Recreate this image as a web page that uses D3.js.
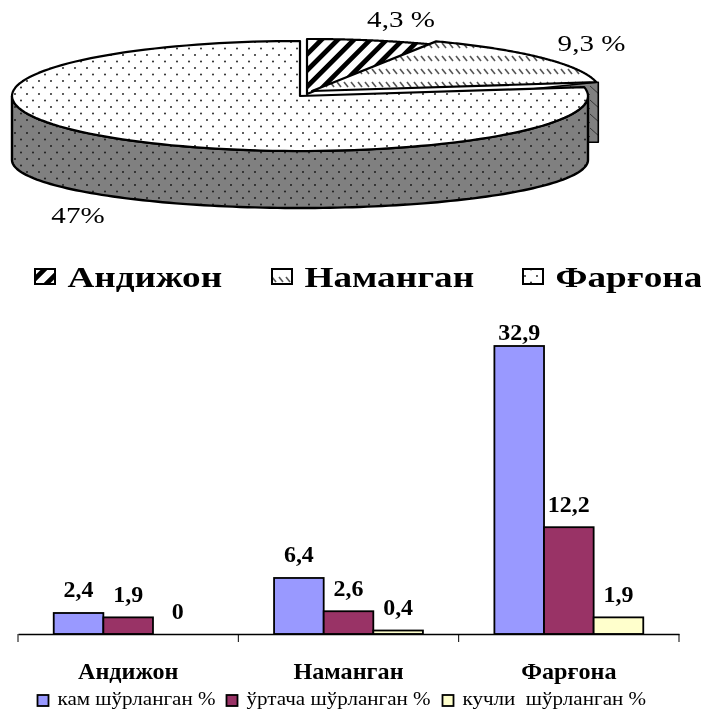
<!DOCTYPE html>
<html><head><meta charset="utf-8">
<script src="https://cdn.jsdelivr.net/npm/d3@7"></script>
<style>html,body{margin:0;padding:0;background:#fff}svg{display:block;filter:blur(0.35px)}text{font-family:"Liberation Serif",serif;fill:#000}</style>
</head><body><svg id="c" width="701" height="710"></svg>
<script>
const regions = ["Андижон", "Наманган", "Фарғона"];
const pieValues = [4.3, 9.3, 47];
const pieLabels = ["4,3 %", "9,3 %", "47%"];
const seriesNames = ["кам шўрланган %", "ўртача шўрланган %", "кучли  шўрланган %"];
const seriesColors = ["#9999FF", "#993366", "#FFFFCC"];
const lowValues = [2.4, 6.4, 32.9];
const midValues = [1.9, 2.6, 12.2];
const highValues = [0, 0.4, 1.9];
const barLabels = [["2,4","6,4","32,9"],["1,9","2,6","12,2"],["0","0,4","1,9"]];

const svg = d3.select("#c");
const defs = svg.append("defs");
function stretch(sel,k){
  sel.each(function(){
    this.style.whiteSpace="pre";
    const w=this.getComputedTextLength();
    d3.select(this).attr("textLength",w*k).attr("lengthAdjust","spacingAndGlyphs");
  });
}
function dots(id, bg, col, r){
  const p = defs.append("pattern").attr("id",id).attr("width",12).attr("height",13).attr("patternUnits","userSpaceOnUse");
  p.append("rect").attr("width",12).attr("height",13).attr("fill",bg);
  [[3,3],[9,9.5]].forEach(d=>p.append("circle").attr("cx",d[0]).attr("cy",d[1]).attr("r",r).attr("fill",col));
}
dots("fer","#fff","#333",1.05);
dots("ferSide","#808080","#222",1.05);
const st = defs.append("pattern").attr("id","and").attr("width",11.5).attr("height",11.5).attr("patternUnits","userSpaceOnUse").attr("patternTransform","rotate(45)");
st.append("rect").attr("width",11.5).attr("height",11.5).attr("fill","#fff");
st.append("rect").attr("width",4.8).attr("height",11.5).attr("fill","#000");
const nh = defs.append("pattern").attr("id","nam").attr("width",7).attr("height",13).attr("patternUnits","userSpaceOnUse");
nh.append("rect").attr("width",7).attr("height",13).attr("fill","#fff");
nh.append("path").attr("d","M1 4L5 9").attr("stroke","#555").attr("stroke-width",1.6);
const ns = defs.append("pattern").attr("id","namSide").attr("width",10).attr("height",14).attr("patternUnits","userSpaceOnUse");
ns.append("rect").attr("width",10).attr("height",14).attr("fill","#808080");
ns.append("path").attr("d","M0 2L10 11").attr("stroke","#333").attr("stroke-width",1);

// ---------- 3D pie
const rx = 288, ry = 55, depth = 64, ryBottom = 48;
const centres = [[307,94],[312,91],[300,96]];
const fills = ["url(#and)","url(#nam)","url(#fer)"];
const arcs = d3.pie().sort(null).startAngle(0).endAngle(2*Math.PI)(pieValues);
const ang = d3.scaleLinear().domain([0,1]);
const rim = (c,a)=>[c[0]+rx*Math.sin(a), c[1]-ry*Math.cos(a)];
const rimLow = (c,a)=>[c[0]+rx*Math.sin(a), c[1]+depth-ryBottom*Math.cos(a)];
const sample = (a0,a1)=>d3.range(0,1.0001,1/120).map(t=>ang.range([a0,a1])(t));
const line = d3.line();
const pieG = svg.append("g").attr("stroke","#000").attr("stroke-linejoin","round");

// Наманган cut face and outer wall
{
  const a = arcs[1], c = centres[1];
  const e = rim(c,a.endAngle);
  const wall = 60;
  pieG.append("path").attr("d",line([e,[e[0]+2,e[1]],[e[0]+2,e[1]+wall],[c[0]+200,e[1]+wall],[c[0]+200,c[1]]])+"Z")
    .attr("fill","url(#namSide)").attr("stroke-width",1.6);
}
// Фарғона outer wall
{
  const c = centres[2];
  const a0 = Math.PI/2, a1 = 1.5*Math.PI;
  const top = sample(a0,a1).map(t=>rim(c,t));
  const bot = sample(a1,a0).map(t=>rimLow(c,t));
  pieG.append("path").attr("d",line(top.concat(bot))+"Z").attr("fill","url(#ferSide)").attr("stroke-width",2.4);
}
// top faces
arcs.forEach((a,i)=>{
  const c = centres[i];
  const pts = [c].concat(sample(a.startAngle,a.endAngle).map(t=>rim(c,t)));
  pieG.append("path").attr("d",line(pts)+"Z").attr("fill",fills[i]).attr("stroke-width",2.2);
});
const pieLabelPos = [[401,27],[591.5,51],[78,223]];
svg.append("g").selectAll("text").data(pieLabels).join("text")
  .attr("x",(d,i)=>pieLabelPos[i][0]).attr("y",(d,i)=>pieLabelPos[i][1])
  .attr("text-anchor","middle").attr("font-size",24).text(d=>d).call(stretch,1.21);

// pie legend
const pieLegendX = [34,271,522];
const pl = svg.append("g").selectAll("g").data(regions).join("g").attr("transform",(d,i)=>`translate(${pieLegendX[i]},0)`);
pl.append("rect").attr("x",1).attr("y",269).attr("width",20).attr("height",15).attr("fill",(d,i)=>fills[i]).attr("stroke","#000").attr("stroke-width",2);
pl.append("text").attr("x",33.5).attr("y",287).attr("font-size",30).attr("font-weight","bold").text(d=>d).call(stretch,1.24);

// ---------- bars
const x0 = d3.scaleBand().domain(regions).range([18,679]);
const x1 = d3.scaleBand().domain(seriesNames).range([0,x0.bandwidth()]).paddingInner(0).paddingOuter(0.72);
const y = d3.scaleLinear().domain([0,32.9]).range([634,346]);
const seriesData = [lowValues,midValues,highValues];
seriesNames.forEach((s,si)=>{
  svg.append("g").selectAll("rect").data(seriesData[si]).join("rect")
    .attr("x",(d,i)=>x0(regions[i])+x1(s)).attr("width",x1.bandwidth())
    .attr("y",d=>y(d)).attr("height",d=>y(0)-y(d))
    .attr("fill",seriesColors[si]).attr("stroke",d=>d>0?"#000":"none").attr("stroke-width",1.8);
  svg.append("g").selectAll("text").data(seriesData[si]).join("text")
    .attr("x",(d,i)=>x0(regions[i])+x1(s)+x1.bandwidth()/2)
    .attr("y",d=>Math.max(y(d)-15.5,340))
    .attr("text-anchor","middle").attr("font-size",23.5).attr("font-weight","bold")
    .text((d,i)=>barLabels[si][i]).call(stretch,1.02);
});
const axis = svg.append("g").attr("transform",`translate(0,${y(0)})`)
  .call(d3.axisBottom(x0).tickSize(0).tickPadding(29));
axis.select(".domain").attr("stroke","#000").attr("stroke-width",1.4);
axis.selectAll("text").attr("font-family",'"Liberation Serif",serif').attr("font-size",23).attr("font-weight","bold").attr("fill","#000").call(stretch,1.05);
axis.selectAll("line.b").data(regions.map(r=>x0(r)).concat([x0.range()[1]])).join("line").attr("class","b")
  .attr("x1",d=>d).attr("x2",d=>d).attr("y1",0).attr("y2",8).attr("stroke","#000");

// bar legend
const barLegendX = [37,226,442];
const bl = svg.append("g").selectAll("g").data(seriesNames).join("g").attr("transform",(d,i)=>`translate(${barLegendX[i]},0)`);
bl.append("rect").attr("x",0.5).attr("y",695).attr("width",11).attr("height",11).attr("fill",(d,i)=>seriesColors[i]).attr("stroke","#000").attr("stroke-width",1.8);
bl.append("text").attr("x",20.5).attr("y",705).attr("font-size",18).text(d=>d).call(stretch,1.17);
</script></body></html>
